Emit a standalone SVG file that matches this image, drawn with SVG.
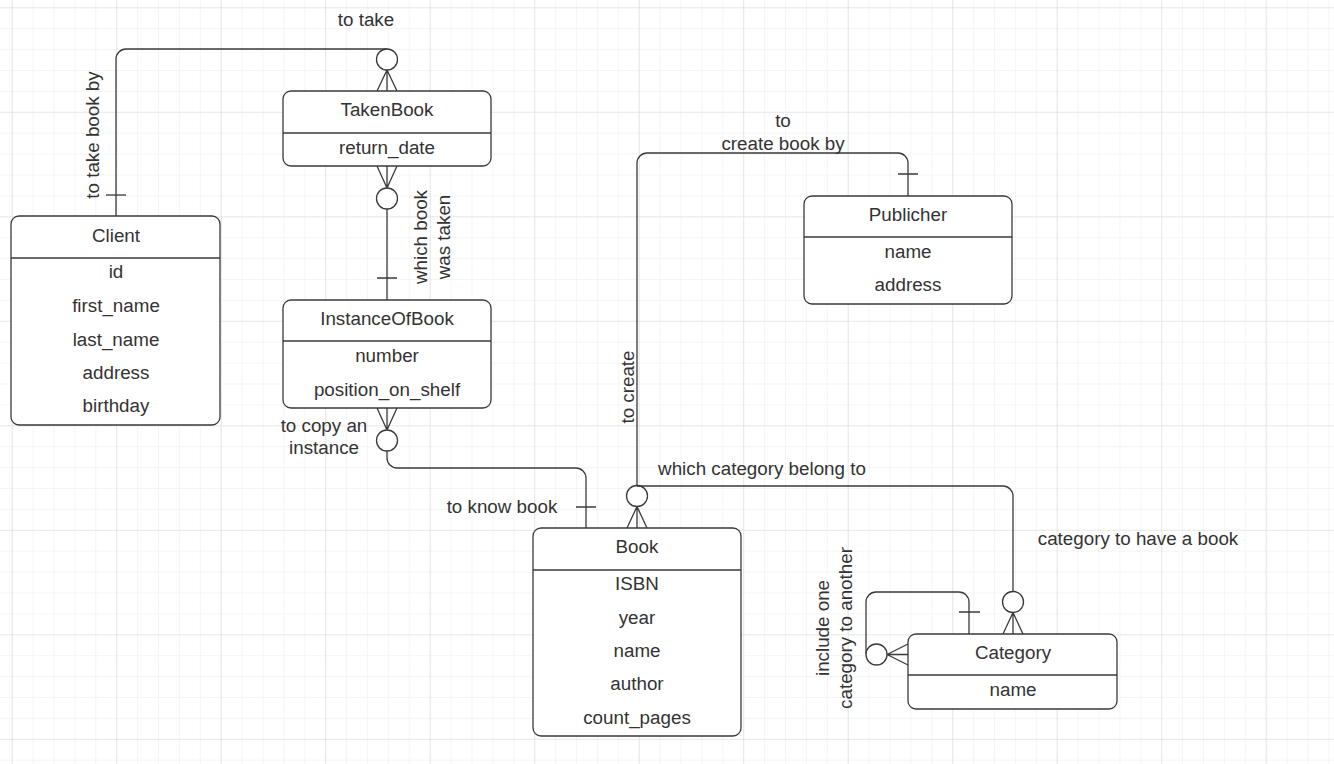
<svg xmlns="http://www.w3.org/2000/svg" width="1334" height="764" viewBox="0 0 1334 764">
  <defs>
    <pattern id="minor" x="11.7" y="7.3" width="20.9" height="20.9" patternUnits="userSpaceOnUse">
      <path d="M0,0 V20.9 M0,0 H20.9" fill="none" stroke="#ececec" stroke-width="1"/>
    </pattern>
    <pattern id="major" x="11.7" y="7.3" width="104.5" height="104.5" patternUnits="userSpaceOnUse">
      <path d="M0,0 V104.5 M0,0 H104.5" fill="none" stroke="#dcdcdc" stroke-width="1.2"/>
    </pattern>
    <style>
      .box { fill: #ffffff; stroke: #3a3a3a; stroke-width: 1.3; }
      .sep { stroke: #3a3a3a; stroke-width: 1.3; }
      .t { font-family: "Liberation Sans", Arial, sans-serif; font-size: 18.8px; fill: #333333; text-anchor: middle; }
      .ln { fill: none; stroke: #3a3a3a; stroke-width: 1.3; }
      .ring { fill: #ffffff; stroke: #3a3a3a; stroke-width: 1.3; }
    </style>
  </defs>

  <!-- canvas grid -->
  <rect width="1334" height="764" fill="#ffffff"/>
  <rect width="1334" height="764" fill="url(#minor)"/>
  <rect width="1334" height="764" fill="url(#major)"/>

  <!-- relationship lines -->
  <g id="connectors">
    <!-- Client : TakenBook -->
    <path class="ln" d="M116,216 V59 A10,10 0 0 1 126,49 H387"/>
    <path class="ln" d="M106,195 H126"/>
    <circle class="ring" cx="387" cy="59.5" r="10.5"/>
    <path class="ln" d="M387,70 V91 M387,70 L377,91 M387,70 L397,91"/>

    <!-- TakenBook : InstanceOfBook -->
    <path class="ln" d="M387,188 V166 M387,188 L377,166 M387,188 L397,166"/>
    <circle class="ring" cx="387" cy="198.5" r="10.5"/>
    <path class="ln" d="M387,209 V300 M377,278 H397"/>

    <!-- InstanceOfBook : Book -->
    <path class="ln" d="M387,430 V408 M387,430 L377,408 M387,430 L397,408"/>
    <circle class="ring" cx="387" cy="440.5" r="10.5"/>
    <path class="ln" d="M387,451 V458 A10,10 0 0 0 397,468 H576 A10,10 0 0 1 586,478 V528 M576,507 H596"/>

    <!-- Publicher : Book -->
    <path class="ln" d="M908,196 V163 A10,10 0 0 0 898,153 H647 A10,10 0 0 0 637,163 V485.5 M898,174 H918"/>
    <circle class="ring" cx="637" cy="496" r="10.5"/>
    <path class="ln" d="M637,506.5 V528 M637,506.5 L627,528 M637,506.5 L647,528"/>

    <!-- Category : Book -->
    <path class="ln" d="M1013,591.5 V496 A10,10 0 0 0 1003,486 H637"/>
    <circle class="ring" cx="1013" cy="602" r="10.5"/>
    <path class="ln" d="M1013,612.5 V634 M1013,612.5 L1003,634 M1013,612.5 L1023,634"/>

    <!-- Category : Category -->
    <path class="ln" d="M969,634 V602 A10,10 0 0 0 959,592 H876 A10,10 0 0 0 866,602 V654.5 M959,612 H980"/>
    <circle class="ring" cx="876.5" cy="654.5" r="10.5"/>
    <path class="ln" d="M887,654.5 H908 M887,654.5 L908,644 M887,654.5 L908,665"/>
  </g>

  <!-- relationship labels -->
  <g id="labels">
    <text class="t" x="366" y="25.5">to take</text>
    <text class="t" transform="rotate(-90 98.5 135)" x="98.5" y="135">to take book by</text>
    <text class="t" transform="rotate(-90 426.5 237)" x="426.5" y="237">which book</text>
    <text class="t" transform="rotate(-90 449.5 237)" x="449.5" y="237">was taken</text>
    <text class="t" x="324" y="431.5">to copy an</text>
    <text class="t" x="324" y="453.5">instance</text>
    <text class="t" x="502" y="512.5">to know book</text>
    <text class="t" x="783" y="126.5">to</text>
    <text class="t" x="783" y="149.5">create book by</text>
    <text class="t" transform="rotate(-90 633.5 387)" x="633.5" y="387">to create</text>
    <text class="t" x="762" y="474.5">which category belong to</text>
    <text class="t" x="1138" y="544.5">category to have a book</text>
    <text class="t" transform="rotate(-90 828.5 628)" x="828.5" y="628">include one</text>
    <text class="t" transform="rotate(-90 851.5 628)" x="851.5" y="628">category to another</text>
  </g>

  <g id="client">
    <rect class="box" x="11" y="216" width="209" height="209" rx="8"/>
    <line class="sep" x1="11" y1="258" x2="220" y2="258"/>
    <text class="t" x="116" y="241.5">Client</text>
    <text class="t" x="116" y="277.5">id</text>
    <text class="t" x="116" y="311.5">first_name</text>
    <text class="t" x="116" y="345.5">last_name</text>
    <text class="t" x="116" y="378.5">address</text>
    <text class="t" x="116" y="411.5">birthday</text>
  </g>

  <g id="takenbook">
    <rect class="box" x="283" y="91" width="208" height="75" rx="8"/>
    <line class="sep" x1="283" y1="133" x2="491" y2="133"/>
    <text class="t" x="387" y="115.5">TakenBook</text>
    <text class="t" x="387" y="153.5">return_date</text>
  </g>

  <g id="instanceofbook">
    <rect class="box" x="283" y="300" width="208" height="108" rx="8"/>
    <line class="sep" x1="283" y1="341" x2="491" y2="341"/>
    <text class="t" x="387" y="324.5">InstanceOfBook</text>
    <text class="t" x="387" y="361.5">number</text>
    <text class="t" x="387" y="395.5">position_on_shelf</text>
  </g>

  <g id="publicher">
    <rect class="box" x="804" y="196" width="208" height="108" rx="8"/>
    <line class="sep" x1="804" y1="237" x2="1012" y2="237"/>
    <text class="t" x="908" y="220.5">Publicher</text>
    <text class="t" x="908" y="257.5">name</text>
    <text class="t" x="908" y="290.5">address</text>
  </g>

  <g id="book">
    <rect class="box" x="533" y="528" width="208" height="208" rx="8"/>
    <line class="sep" x1="533" y1="570" x2="741" y2="570"/>
    <text class="t" x="637" y="552.5">Book</text>
    <text class="t" x="637" y="589.5">ISBN</text>
    <text class="t" x="637" y="623.5">year</text>
    <text class="t" x="637" y="656.5">name</text>
    <text class="t" x="637" y="689.5">author</text>
    <text class="t" x="637" y="723.5">count_pages</text>
  </g>

  <g id="category">
    <rect class="box" x="908" y="634" width="209" height="75" rx="8"/>
    <line class="sep" x1="908" y1="675" x2="1117" y2="675"/>
    <text class="t" x="1013" y="658.5">Category</text>
    <text class="t" x="1013" y="695.5">name</text>
  </g>
</svg>
